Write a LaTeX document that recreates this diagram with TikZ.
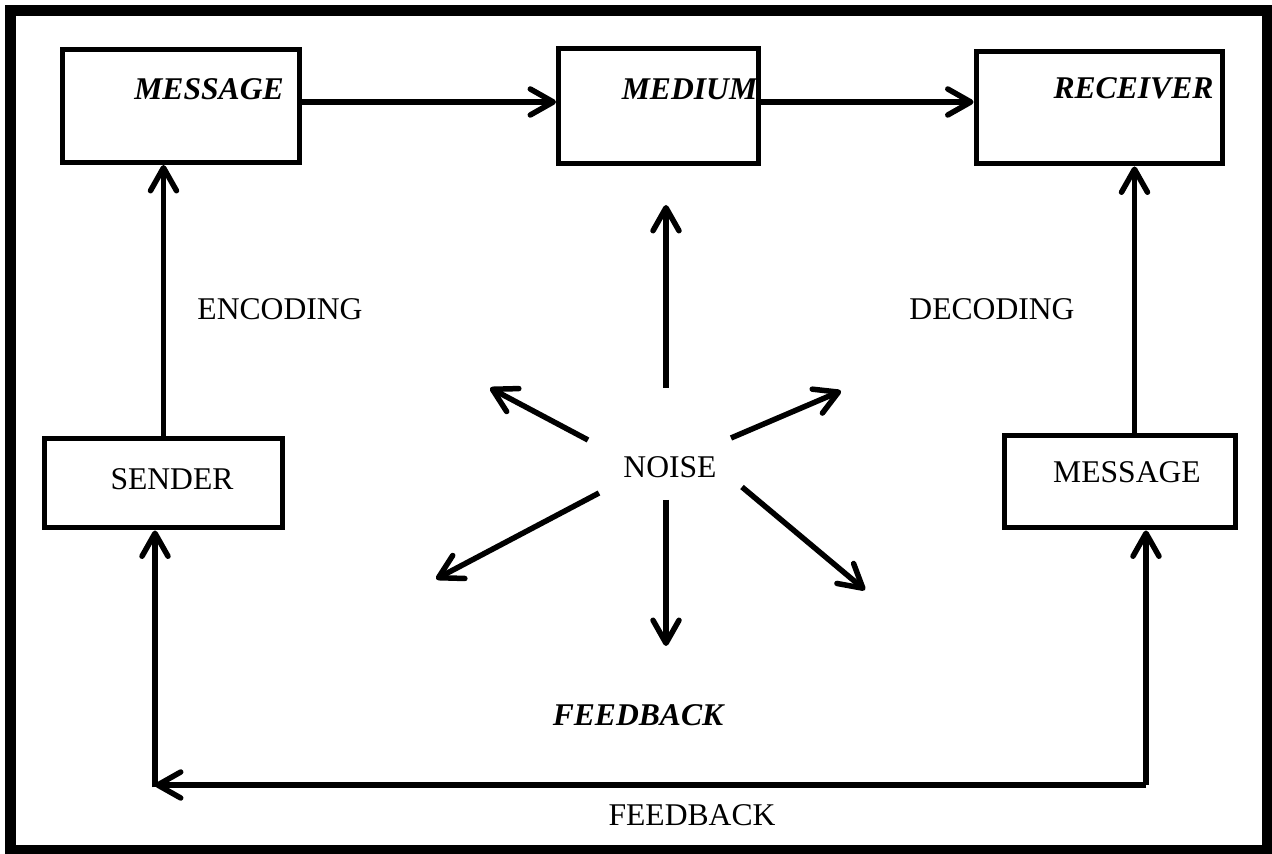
\documentclass[tikz,border=0pt]{standalone}
\usepackage{fontspec}
\setmainfont{Liberation Serif}
\usetikzlibrary{arrows.meta}

\tikzset{
	box/.style={draw, line width=0.1cm, inner sep=0pt},
	arr/.style={line width=0.11cm, -{Straight Barb[length=4.6mm,width=5.2mm,round]}},
	lbl/.style={anchor=base, inner sep=0pt, font=\fontsize{18}{21}\selectfont},
	bilbl/.style={lbl, font=\fontsize{18}{21}\selectfont\bfseries\itshape}
}

\begin{document}
\begin{tikzpicture}[x=0.02cm,y=-0.02cm]

	\useasboundingbox (0,0) rectangle (1272,854);
	\draw[line width=0.21cm] (10.5,10.5) rectangle (1267,850);

	\node[box, minimum width=4.76cm, minimum height=2.26cm] (message) at (181,106) {};
	\node[box, minimum width=4.00cm, minimum height=2.30cm] (medium) at (658.5,106) {};
	\node[box, minimum width=4.94cm, minimum height=2.26cm] (receiver) at (1099.5,107.5) {};
	\node[box, minimum width=4.78cm, minimum height=1.80cm] (sender) at (163.5,483) {};
	\node[box, minimum width=4.64cm, minimum height=1.86cm] (message2) at (1120,481.5) {};

	\node[bilbl] (messagetxt) at (209,100) {MESSAGE};
	\node[bilbl] (mediumtxt) at (689.5,100) {MEDIUM};
	\node[bilbl] (receivertxt) at (1133.5,99) {RECEIVER};
	\node[lbl] (sendertxt) at (172,490) {SENDER};
	\node[lbl] (message2txt) at (1127,483) {MESSAGE};
	\node[lbl] (encoding) at (280,320) {ENCODING};
	\node[lbl] (decoding) at (992,320) {DECODING};
	\node[lbl] (noise) at (670,478) {NOISE};
	\node[bilbl] (feedbacktxt) at (638,725) {FEEDBACK};
	\node[lbl] (feedback) at (692,826) {FEEDBACK};

	\draw[arr] ([yshift=0.08cm]message.east) -- ([yshift=0.08cm]medium.west);
	\draw[arr] ([yshift=0.08cm]medium.east) -- ([yshift=0.08cm]medium.east -| receiver.west);
	\draw[arr] (sender.north) -- (sender.north |- message.south);
	\draw[arr] ([xshift=0.29cm]message2.north) -- ([xshift=0.29cm]message2.north |- receiver.south);

	\coordinate (fbR) at (1146,785);
	\coordinate (fbL) at (155,785);
	\draw[arr] (fbR) -- (fbL);
	\draw[arr] ([yshift=-0.05cm]fbL) -- (fbL |- sender.south);
	\draw[arr] (fbR) -- (fbR |- message2.south);

	\coordinate (up0) at (666,388);
	\coordinate (up1) at (666,205);
	\coordinate (ul0) at (588,440);
	\coordinate (ul1) at (490,388);
	\coordinate (ur0) at (731,438);
	\coordinate (ur1) at (841,391);
	\coordinate (dl0) at (599,493);
	\coordinate (dl1) at (436,579);
	\coordinate (dn0) at (666,500);
	\coordinate (dn1) at (666,646);
	\coordinate (dr0) at (742,487);
	\coordinate (dr1) at (865,590);

	\draw[arr] (up0) -- (up1);
	\draw[arr] (ul0) -- (ul1);
	\draw[arr] (ur0) -- (ur1);
	\draw[arr] (dl0) -- (dl1);
	\draw[arr] (dn0) -- (dn1);
	\draw[arr] (dr0) -- (dr1);

\end{tikzpicture}
\end{document}
